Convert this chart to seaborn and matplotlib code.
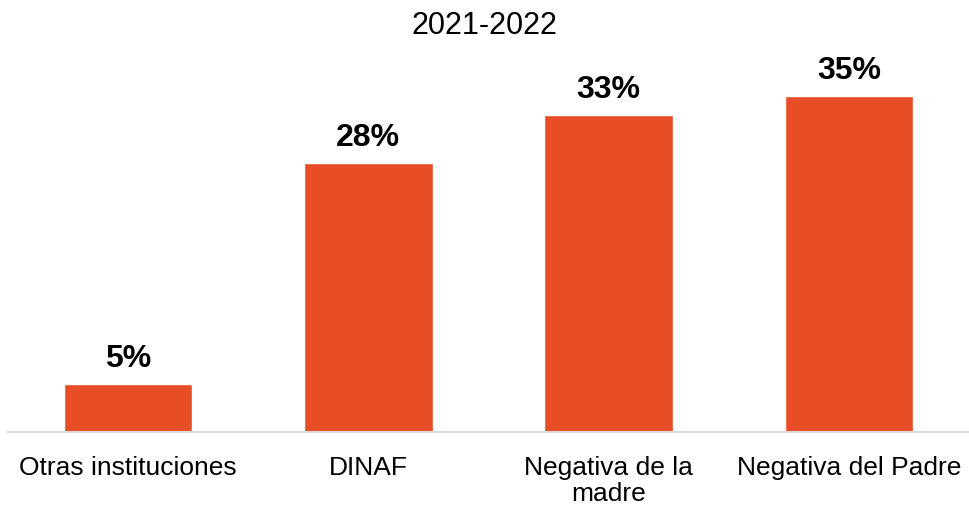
import matplotlib
matplotlib.use("Agg")
import matplotlib.pyplot as plt
import seaborn as sns
import pandas as pd

categories = ["Otras instituciones", "DINAF", "Negativa de la\nmadre", "Negativa del Padre"]
values = [5, 28, 33, 35]
title = "2021-2022"

sns.set_theme(style="white")
plt.rcParams['font.family'] = ['Liberation Sans', 'DejaVu Sans']

df = pd.DataFrame({"cat": categories, "val": values})

fig = plt.figure(figsize=(9.69, 5.05), dpi=100)
ax = fig.add_axes([8/969, 73/505, (969-8)/969, 384/505])
sns.barplot(data=df, x="cat", y="val", color="#E84E25", width=0.535, saturation=1, ax=ax)
ax.set_xlim(-0.5, 3.5)
ax.set_ylim(0, 40)
for p, v in zip(ax.patches, values):
    ax.annotate(f"{v}%", (p.get_x() + p.get_width() / 2, p.get_height()),
                xytext=(0, 7), textcoords="offset points", ha="center", va="bottom",
                fontsize=23, fontweight="bold", color="black")
ax.set_xlabel("")
ax.set_ylabel("")
ax.set_yticks([])
ax.tick_params(axis="x", length=0, pad=17, labelsize=19, colors="black")
for lbl in ax.get_xticklabels():
    lbl.set_linespacing(1.15)
for s in ["top", "right", "left"]:
    ax.spines[s].set_visible(False)
ax.spines["bottom"].set_color("#D9D9D9")
ax.spines["bottom"].set_linewidth(1.5)
fig.text(0.5, 1 - 26/505, title, ha="center", va="center", fontsize=22, color="black")
fig.savefig("out.png", dpi=100)
